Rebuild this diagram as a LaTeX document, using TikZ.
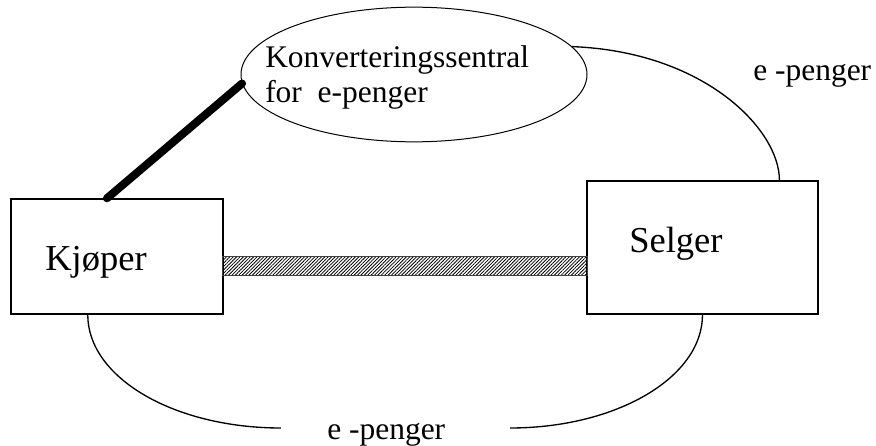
\documentclass[tikz,border=0pt]{standalone}
\usepackage{fontspec}
\setmainfont{Liberation Serif}
\usetikzlibrary{shapes.geometric,calc,patterns.meta}

\tikzset{
  party/.style={draw, line width=1.1pt, inner sep=0pt},
  centre/.style={draw, ellipse, line width=0.75pt, inner sep=0pt,
                 minimum width=259.5pt, minimum height=101pt},
  bigtext/.style={anchor=base west, inner sep=0pt,
                  font=\fontsize{27.4}{31}\selectfont},
  smalltext/.style={anchor=base west, inner sep=0pt,
                    font=\fontsize{23.6}{27}\selectfont},
  flow/.style={line width=1pt},
  access/.style={line width=6pt, line cap=round},
  hatchbar/.style={draw=black!75, line width=0.6pt,
                   pattern={Lines[angle=45, distance=1.8pt, line width=0.6pt]},
                   pattern color=black}
}

\begin{document}
\begin{tikzpicture}[x=0.75pt, y=-0.75pt]
  \useasboundingbox (0,0) rectangle (876,446);

  % the two trading parties and the conversion centre
  \node[party, minimum width=159pt, minimum height=86.25pt] (kj) at (117,256.5) {};
  \node[party, minimum width=173.25pt, minimum height=99.75pt] (sel) at (702.5,247.5) {};
  \node[centre] (conv) at (414,74.5) {};

  % labels
  \node[bigtext] (kjlab) at (45,270) {Kjøper};
  \node[bigtext] (sellab) at (629,252) {Selger};
  \node[smalltext] (convlab1) at (265,67) {Konverteringssentral};
  \node[smalltext] (convlab2) at (265,102) {for\ \ e-penger};
  \node[smalltext] (toplab) at (753,80) {e -penger};
  \node[smalltext] (botlab) at (327,439) {e -penger};

  % direct link between buyer and seller
  \draw[hatchbar] ($(kj.south east)+(-1,-58)$) rectangle ($(sel.south west)+(1,-39)$);

  % buyer's access to the conversion centre
  \draw[access] ($(kj.north west)!0.453!(kj.north east)$) -- (conv.183);

  % e-money from the centre to the seller
  \coordinate (selin) at ($(sel.north west)!0.831!(sel.north east)$);
  \draw[flow] (conv.10) .. controls +(132,5) and +(0,-51) .. (selin);

  % e-money from buyer to seller, broken by its label
  \coordinate (kjout) at ($(kj.south west)!0.363!(kj.south east)$);
  \coordinate (bl) at (281,428);
  \coordinate (br) at (510,428);
  \draw[flow] (kjout) .. controls +(0,63) and +(-107,0) .. (bl);
  \draw[flow] (sel.south) .. controls +(0,63) and +(106,0) .. (br);
\end{tikzpicture}
\end{document}
